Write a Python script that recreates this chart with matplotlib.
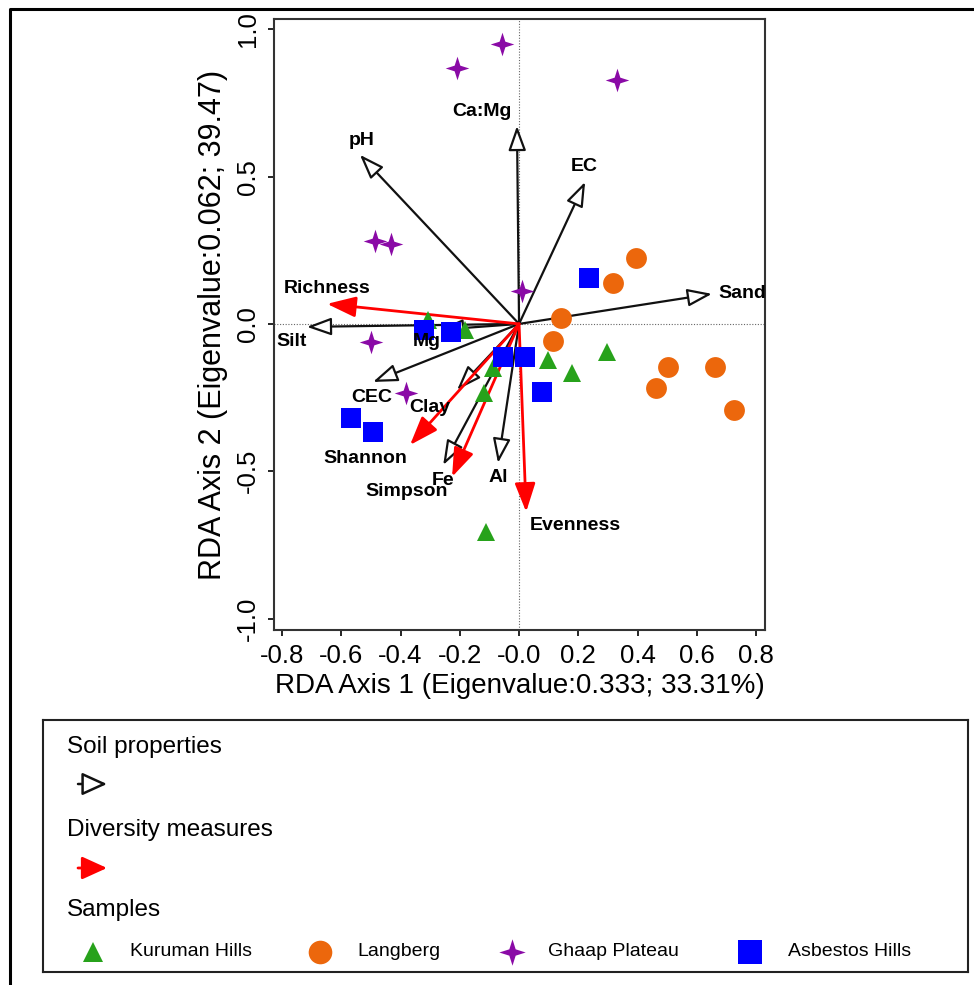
import matplotlib

matplotlib.use("Agg")
import matplotlib.pyplot as plt
from matplotlib.lines import Line2D
from matplotlib.path import Path
import numpy as np

plt.rcParams["font.family"] = ["Liberation Sans", "DejaVu Sans"]

# soil property vectors (black, open heads)
soil_names = ["pH", "Ca:Mg", "EC", "Sand", "Silt", "Mg", "CEC", "Clay", "Fe", "Al"]
soil_x = [-0.537, -0.007, 0.223, 0.651, -0.716, -0.270, -0.493, -0.209, -0.256, -0.071]
soil_y = [0.574, 0.672, 0.482, 0.102, -0.010, -0.020, -0.197, -0.224, -0.479, -0.472]

# diversity vectors (red, filled heads)
div_names = ["Richness", "Shannon", "Simpson", "Evenness"]
div_x = [-0.648, -0.368, -0.226, 0.024]
div_y = [0.068, -0.411, -0.519, -0.638]

# sample scores
kuruman_x = [-0.307, -0.182, -0.088, -0.118, 0.098, 0.179, 0.297, -0.111]
kuruman_y = [0.014, -0.020, -0.149, -0.234, -0.122, -0.166, -0.095, -0.706]
langberg_x = [0.395, 0.317, 0.142, 0.115, 0.503, 0.662, 0.462, 0.726]
langberg_y = [0.224, 0.139, 0.020, -0.058, -0.146, -0.146, -0.217, -0.292]
ghaap_x = [-0.057, -0.209, 0.331, -0.486, -0.432, 0.010, -0.500, -0.381]
ghaap_y = [0.950, 0.869, 0.828, 0.282, 0.272, 0.112, -0.061, -0.234]
asbestos_x = [0.236, -0.321, -0.230, -0.054, 0.020, 0.078, -0.567, -0.493]
asbestos_y = [0.156, -0.020, -0.027, -0.112, -0.112, -0.231, -0.319, -0.367]

x_ticks = [-0.8, -0.6, -0.4, -0.2, 0.0, 0.2, 0.4, 0.6, 0.8]
x_tick_labels = ["-0.8", "-0.6", "-0.4", "-0.2", "-0.0", "0.2", "0.4", "0.6", "0.8"]
y_ticks = [-1.0, -0.5, 0.0, 0.5, 1.0]
y_tick_labels = ["-1.0", "-0.5", "0.0", "0.5", "1.0"]

# label offsets from arrow tips, in pixels (dx right, dy down)
soil_label_off = [(2, -14), (-35, -14), (-1, -15), (30, 0), (-15, 15),
                  (-12, 12), (-1, 16), (-27, 18), (0, 15), (0, 15)]
div_label_off = [(0, -15), (-45, 14), (-45, 15), (49, 14)]

GREEN = "#27a21b"
ORANGE = "#ec670c"
PURPLE = "#8a0aa6"
BLUE = "#0000ff"

# four pointed star
ang = np.arange(8) * np.pi / 4 + np.pi / 2
rad = np.where(np.arange(8) % 2 == 0, 1.0, 0.34)
star_verts = np.column_stack([rad * np.cos(ang), rad * np.sin(ang)])
star_verts = np.vstack([star_verts, star_verts[:1]])
star = Path(star_verts, [Path.MOVETO] + [Path.LINETO] * 7 + [Path.CLOSEPOLY])

sample_styles = [
    ("Kuruman Hills", kuruman_x, kuruman_y, "^", GREEN, 13),
    ("Langberg", langberg_x, langberg_y, "o", ORANGE, 15),
    ("Ghaap Plateau", ghaap_x, ghaap_y, star, PURPLE, 17),
    ("Asbestos Hills", asbestos_x, asbestos_y, "s", BLUE, 14.5),
]

fig = plt.figure(figsize=(9.74, 9.85), dpi=100)
ax = fig.add_axes([274 / 974, 1 - 630 / 985, 491 / 974, 611 / 985])
ax.set_xlim(-0.827, 0.830)
ax.set_ylim(-1.039, 1.035)
ax.axhline(0, color="#666666", lw=0.8, ls=(0, (1, 1.5)), zorder=1)
ax.axvline(0, color="#666666", lw=0.8, ls=(0, (1, 1.5)), zorder=1)


def vector(a, x0, y0, x, y, color, face, hl, hw, lw, ms):
    a.annotate("", xy=(x, y), xytext=(x0, y0),
               arrowprops=dict(arrowstyle=f"-|>,head_length={hl},head_width={hw}",
                               fc=face, ec=color, lw=lw, mutation_scale=ms,
                               shrinkA=0, shrinkB=0), zorder=3)


for name, x, y, (dx, dy) in zip(soil_names, soil_x, soil_y, soil_label_off):
    vector(ax, 0, 0, x, y, "#111111", "white", 1.25, 0.45, 1.6, 12)
    ax.annotate(name, xy=(x, y), xytext=(dx * 0.72, -dy * 0.72), textcoords="offset points",
                ha="center", va="center", fontsize=14, fontweight="bold", zorder=6)

for name, x, y, (dx, dy) in zip(div_names, div_x, div_y, div_label_off):
    vector(ax, 0, 0, x, y, "red", "red", 1.25, 0.45, 2.0, 14)
    ax.annotate(name, xy=(x, y), xytext=(dx * 0.72, -dy * 0.72), textcoords="offset points",
                ha="center", va="center", fontsize=14, fontweight="bold", zorder=6)

for label, xs, ys, mk, col, ms in sample_styles:
    ax.plot(xs, ys, ls="none", marker=mk, color=col, markersize=ms,
            markeredgewidth=0, zorder=4)

ax.set_xticks(x_ticks)
ax.set_xticklabels(x_tick_labels)
ax.set_yticks(y_ticks)
ax.set_yticklabels(y_tick_labels, rotation=90, va="center")
ax.tick_params(direction="out", length=4, width=1.2, labelsize=18.5, pad=6)
for sp in ax.spines.values():
    sp.set_linewidth(1.5)
    sp.set_color("#333333")
ax.set_xlabel("RDA Axis 1 (Eigenvalue:0.333; 33.31%)", fontsize=20, labelpad=4)
ax.set_ylabel("RDA Axis 2 (Eigenvalue:0.062; 39.47)", fontsize=22, labelpad=6)

# outer frame (top and left edges only)
fig.add_artist(Line2D([10 / 974, 10 / 974, 1.0], [0.0, 1 - 9 / 985, 1 - 9 / 985],
                      transform=fig.transFigure, color="black", lw=2.2))

# legend panel, in pixel units of the box
leg = fig.add_axes([43 / 974, 1 - 972 / 985, 925 / 974, 252 / 985])
leg.set_xlim(0, 925)
leg.set_ylim(252, 0)
leg.set_xticks([])
leg.set_yticks([])
for sp in leg.spines.values():
    sp.set_linewidth(1.5)
    sp.set_color("#222222")

leg.text(24, 27, "Soil properties", fontsize=17.5, va="center")
leg.text(24, 110, "Diversity measures", fontsize=17.5, va="center")
leg.text(24, 190, "Samples", fontsize=17.5, va="center")
vector(leg, 35, 64, 64, 64, "#111111", "white", 1.1, 0.5, 1.8, 14)
vector(leg, 35, 148, 64, 148, "red", "red", 1.1, 0.5, 2.0, 14)

marker_x = [50, 277, 469, 707]
text_x = [87, 314, 505, 745]
legend_ms = [14, 17, 19, 17]
for (label, xs, ys, mk, col, ms), mx, tx, lms in zip(sample_styles, marker_x, text_x, legend_ms):
    leg.plot([mx], [232], ls="none", marker=mk, color=col, markersize=lms, markeredgewidth=0)
    leg.text(tx, 232, label, fontsize=14, va="center")

fig.savefig("out.png", dpi=100, facecolor="white")
